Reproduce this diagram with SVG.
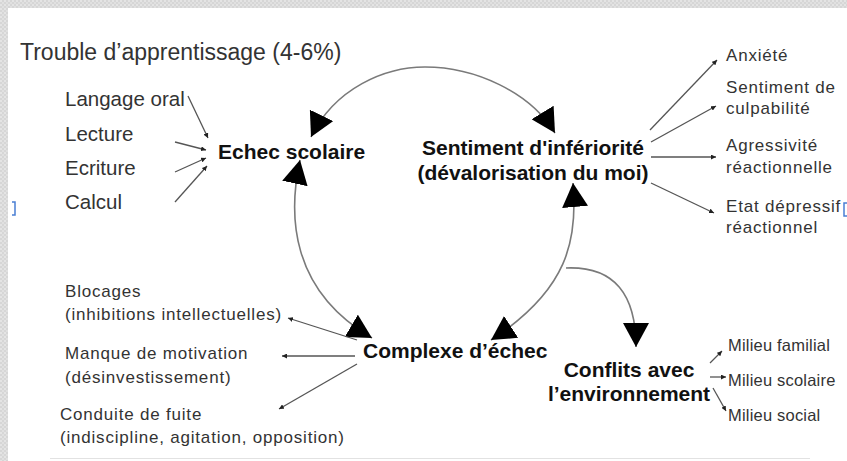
<svg xmlns="http://www.w3.org/2000/svg" width="847" height="461" viewBox="0 0 847 461">
<defs>
<pattern id="tex" width="4" height="4" patternUnits="userSpaceOnUse">
<rect width="4" height="4" fill="#d6d6d6"/>
<rect width="2" height="2" fill="#e4e4e4"/>
<rect x="2" y="2" width="2" height="2" fill="#e0e0e0"/>
</pattern>
<marker id="big" viewBox="0 0 24 26" refX="24" refY="13" markerWidth="24" markerHeight="26" markerUnits="userSpaceOnUse" orient="auto-start-reverse">
<path d="M0,0 L24,13 L0,26 z" fill="#000"/>
</marker>
<marker id="sm" viewBox="0 0 6 6" refX="6" refY="3" markerWidth="5" markerHeight="5" markerUnits="userSpaceOnUse" orient="auto">
<path d="M0,0 L6,3 L0,6 z" fill="#222"/>
</marker>
</defs>
<style>
.t{font-family:"Liberation Sans",Arial,sans-serif;fill:#333}
.title{font-size:23px}
.l{font-size:20.5px}
.s{font-size:17px;letter-spacing:0.8px}
.m{font-size:16.5px;letter-spacing:0.2px}
.b{font-family:"Liberation Sans",Arial,sans-serif;font-weight:bold;font-size:21px;fill:#111}
.arc{fill:none;stroke:#7a7a7a;stroke-width:1.6}
.ln{fill:none;stroke:#555;stroke-width:1.3;marker-end:url(#sm)}
</style>
<rect width="847" height="461" fill="url(#tex)"/>
<rect x="8" y="8" width="839" height="453" fill="#fff"/>
<line x1="50" y1="458.5" x2="810" y2="458.5" stroke="#e2e2e2" stroke-width="1"/>
<path d="M12,202 h3 v13 h-3" fill="none" stroke="#4a7fd4" stroke-width="1.5"/>
<path d="M847,203 h-3 v13 h3" fill="none" stroke="#4a7fd4" stroke-width="1.5"/>

<text class="t title" x="20" y="60">Trouble d’apprentissage (4-6%)</text>

<g id="connectors">
<path class="arc" d="M311,137 C335,88 385,67 425,67 C475,67 530,92 555,133" marker-start="url(#big)" marker-end="url(#big)"/>
<path class="arc" d="M300,160 C288,215 290,290 372,338" marker-start="url(#big)" marker-end="url(#big)"/>
<path class="arc" d="M573,183 C578,240 568,290 491,340" marker-start="url(#big)" marker-end="url(#big)"/>
<path class="arc" d="M566,268 C615,266 636,295 636,347" marker-end="url(#big)"/>
<path class="ln" d="M188,96 L208,138"/>
<path class="ln" d="M175,142 L206,150"/>
<path class="ln" d="M175,172 L206,158"/>
<path class="ln" d="M175,202 L207,166"/>
<path class="ln" d="M650,130 L717,60"/>
<path class="ln" d="M651,142 L716,106"/>
<path class="ln" d="M651,157 L716,157"/>
<path class="ln" d="M651,183 L714,213"/>
<path class="ln" d="M357,340 L288,318"/>
<path class="ln" d="M355,356 L282,356"/>
<path class="ln" d="M357,364 L279,409"/>
<path class="ln" d="M710,363 L722,351"/>
<path class="ln" d="M710,377 L726,377"/>
<path class="ln" d="M713,388 L726,411"/>
</g>

<g id="troubles">
<text class="t l" x="65" y="106">Langage oral</text>
<text class="t l" x="65" y="141">Lecture</text>
<text class="t l" x="65" y="175">Ecriture</text>
<text class="t l" x="65" y="209">Calcul</text>
</g>
<g id="echec-scolaire"><text class="b" x="218" y="159">Echec scolaire</text></g>
<g id="sentiment-inferiorite">
<text class="b" x="533" y="155" text-anchor="middle">Sentiment d'infériorité</text>
<text class="b" x="533" y="180" text-anchor="middle">(dévalorisation du moi)</text>
</g>
<g id="complexe-echec"><text class="b" x="363" y="358">Complexe d’échec</text></g>
<g id="conflits">
<text class="b" x="629" y="377" text-anchor="middle">Conflits avec</text>
<text class="b" x="629" y="401" text-anchor="middle">l’environnement</text>
</g>
<g id="consequences">
<text class="t s" x="726" y="61">Anxiété</text>
<text class="t s" x="726" y="93">Sentiment de</text>
<text class="t s" x="726" y="114">culpabilité</text>
<text class="t s" x="726" y="151">Agressivité</text>
<text class="t s" x="726" y="173">réactionnelle</text>
<text class="t s" x="726" y="212">Etat dépressif</text>
<text class="t s" x="726" y="233">réactionnel</text>
</g>
<g id="manifestations">
<text class="t s" x="65" y="297">Blocages</text>
<text class="t s" x="65" y="320">(inhibitions intellectuelles)</text>
<text class="t s" x="65" y="359">Manque de motivation</text>
<text class="t s" x="65" y="383">(désinvestissement)</text>
<text class="t s" x="60" y="420">Conduite de fuite</text>
<text class="t s" x="60" y="443">(indiscipline, agitation, opposition)</text>
</g>
<g id="milieux">
<text class="t m" x="728" y="351">Milieu familial</text>
<text class="t m" x="728" y="386">Milieu scolaire</text>
<text class="t m" x="728" y="421">Milieu social</text>
</g>
</svg>
